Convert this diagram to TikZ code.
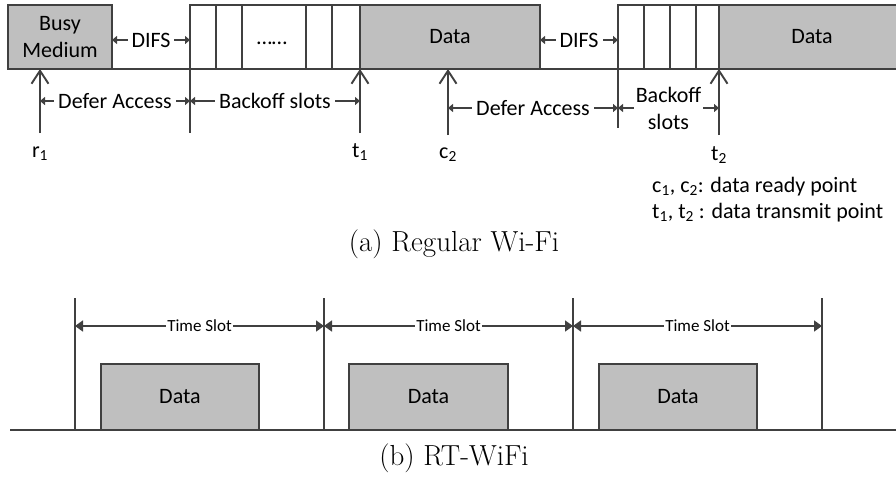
\documentclass[tikz,border=0pt]{standalone}
\usepackage{fontspec}
\setsansfont{Carlito}
\usetikzlibrary{arrows.meta}
\definecolor{ink}{RGB}{64,64,64}
\definecolor{pktgray}{RGB}{191,191,191}
\tikzset{
  lbl/.style={font=\sffamily\fontsize{22}{27}\selectfont, text=black, inner sep=0pt},
  small/.style={font=\sffamily\fontsize{17}{20}\selectfont, text=black, inner sep=0pt},
  capt/.style={font=\fontsize{29}{33}\selectfont, text=black, inner sep=0pt, anchor=base},
  frame/.style={draw=ink, line width=1.9pt, outer sep=0pt, inner sep=0pt},
  pkt/.style={frame, fill=pktgray, lbl},
  slotbox/.style={frame, fill=white},
  span/.style={draw=ink, line width=1.7pt,
    {Triangle[length=5pt,width=8pt]}-{Triangle[length=5pt,width=8pt]}},
  bigspan/.style={draw=ink, line width=1.7pt,
    {Triangle[length=8pt,width=11pt]}-{Triangle[length=8pt,width=11pt]}},
  gap/.style={lbl, fill=white, inner xsep=4pt, inner ysep=1pt},
  smallgap/.style={small, fill=white, inner xsep=1pt, inner ysep=1pt},
  event/.style={draw=ink, line width=1.9pt, -{Straight Barb[length=13pt,width=17pt]}},
  tick/.style={draw=ink, line width=1.9pt},
}
\begin{document}
\begin{tikzpicture}[x=1pt, y=-1pt]
\useasboundingbox (0,0) rectangle (896,477);
\fill[white] (0,0) rectangle (896,477);

% ---------- (a) regular Wi-Fi ----------
\coordinate (ta) at (8,69);
\coordinate (tb) at (900,69);
\draw[tick] (ta) -- (tb);

\node[pkt, align=center, minimum width=104pt, minimum height=64pt, anchor=north west]
  (busy) at (8,5) {Busy\\Medium};
\node[slotbox, minimum width=170pt, minimum height=64pt, anchor=north west] (bk1) at (190,5) {};
\node[pkt, minimum width=180pt, minimum height=64pt, anchor=north west] (data1) at (360,5) {Data};
\node[slotbox, minimum width=101pt, minimum height=64pt, anchor=north west] (bk2) at (618,5) {};
\node[pkt, minimum width=200pt, minimum height=64pt, anchor=north west] (data2) at (719,5) {};
\node[lbl] (data2t) at (812,37) {Data};

% backoff slot dividers
\foreach \x in {216,242,306,332} \draw[tick] (\x,5) -- (\x,69);
\foreach \x in {644,670,696} \draw[tick] (\x,5) -- (\x,69);
\node[lbl, anchor=base] (dots) at (272,44) {……};

% DIFS intervals
\draw[span] (busy.east |- 0,40) -- node[gap] (difs1) {DIFS} (bk1.west |- 0,40);
\draw[span] (data1.east |- 0,40) -- node[gap] (difs2) {DIFS} (bk2.west |- 0,40);

% event markers
\coordinate (r1) at (40,69);   \coordinate (r1f) at (40,133);
\coordinate (t1) at (360,69);  \coordinate (t1f) at (360,133);
\coordinate (c2) at (448,69);  \coordinate (c2f) at (448,135);
\coordinate (t2) at (719,69);  \coordinate (t2f) at (719,135);
\coordinate (b1) at (190,69);  \coordinate (b1f) at (190,133);
\coordinate (b2) at (618,69);  \coordinate (b2f) at (618,128);
\draw[event] (r1f) -- (r1);
\draw[event] (t1f) -- (t1);
\draw[event] (c2f) -- (c2);
\draw[event] (t2f) -- (t2);
\draw[tick] (b1) -- (b1f);
\draw[tick] (b2) -- (b2f);

\node[lbl, anchor=base] (r1l) at (40,157) {r\textsubscript{1}};
\node[lbl, anchor=base] (t1l) at (360,157) {t\textsubscript{1}};
\node[lbl, anchor=base] (c2l) at (448,158) {c\textsubscript{2}};
\node[lbl, anchor=base] (t2l) at (719,160) {t\textsubscript{2}};

% access intervals
\draw[span] (40,101) -- node[gap] (defer1) {Defer Access} (190,101);
\draw[span] (190,101) -- node[gap] (boff1) {Backoff slots} (360,101);
\draw[span] (448,108) -- node[gap] (defer2) {Defer Access} (618,108);
\draw[span] (618,108) -- node[gap, align=center, inner xsep=2pt] (boff2) {Backoff\\slots} (719,108);

% legend
\node[lbl, anchor=base west] (leg1) at (652,192)
  {c\textsubscript{1}, c\textsubscript{2}: data ready point};
\node[lbl, anchor=base west] (leg2) at (652,218)
  {t\textsubscript{1}, t\textsubscript{2} : data transmit point};

\node[capt] (capa) at (454,251) {(a) Regular Wi-Fi};

% ---------- (b) RT-WiFi ----------
\coordinate (ua) at (10,430);
\coordinate (ub) at (900,430);
\node[pkt, minimum width=158pt, minimum height=66pt, anchor=south west] (p1) at (101,430) {Data};
\node[pkt, minimum width=159pt, minimum height=66pt, anchor=south west] (p2) at (349,430) {Data};
\node[pkt, minimum width=158pt, minimum height=66pt, anchor=south west] (p3) at (599,430) {Data};
\draw[tick] (ua) -- (ub);

\foreach \x [count=\i] in {75,324,573,822} {
  \coordinate (s\i) at (\x,298);
  \coordinate (s\i b) at (\x,430);
  \draw[tick] (s\i) -- (s\i b);
}
\draw[bigspan] (75,326) -- node[smallgap] (ts1) {Time Slot} (324,326);
\draw[bigspan] (324,326) -- node[smallgap] (ts2) {Time Slot} (573,326);
\draw[bigspan] (573,326) -- node[smallgap] (ts3) {Time Slot} (822,326);

\node[capt] (capb) at (454,465) {(b) RT-WiFi};
\end{tikzpicture}
\end{document}
